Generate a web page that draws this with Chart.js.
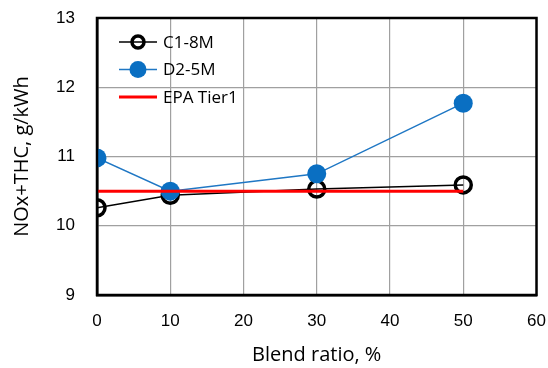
<!DOCTYPE html>
<html>
<head>
<meta charset="utf-8">
<script src="https://cdn.jsdelivr.net/npm/chart.js@4"></script>
<style>
  html, body { margin: 0; padding: 0; background: #fff; }
  #wrap { width: 548px; height: 368px; }
</style>
</head>
<body>
<div id="wrap"><canvas id="chart" width="548" height="368"></canvas></div>
<script>
// blend ratio, %
const blendRatio = [0, 10, 30, 50];
// NOx+THC, g/kWh
const c18m = [10.26, 10.44, 10.53, 10.59];
const d25m = [10.98, 10.50, 10.75, 11.77];
const epaTier1 = [10.5, 10.5, 10.5, 10.5];
const xTicks = [0, 10, 20, 30, 40, 50, 60];
const yTicks = [9, 10, 11, 12, 13];

const pts = (ys) => blendRatio.map((x, i) => ({ x: x, y: ys[i] }));

const tickFont = { family: 'Liberation Sans, Arial, sans-serif', size: 17 };
const titleFont = { family: 'Open Sans, Noto Sans, sans-serif', size: 20 };

// frame round the plot area + legend inside it
const framePlugin = {
  id: 'frame',
  afterDatasetsDraw(chart) {
    const { ctx, chartArea: a } = chart;
    ctx.save();
    ctx.strokeStyle = '#000';
    ctx.lineWidth = 2.5;
    ctx.strokeRect(a.left, a.top, a.right - a.left, a.bottom - a.top);

    // legend
    let y = a.top + 24;
    chart.data.datasets.forEach(ds => {
      const x0 = a.left + 22, x1 = a.left + 60;
      ctx.strokeStyle = ds.borderColor;
      ctx.lineWidth = ds.legendLine;
      ctx.beginPath();
      ctx.moveTo(x0, y);
      ctx.lineTo(x1, y);
      ctx.stroke();
      if (ds.pointRadius > 0) {
        ctx.beginPath();
        ctx.arc((x0 + x1) / 2, y, ds.legendRadius, 0, Math.PI * 2);
        ctx.fillStyle = ds.pointBackgroundColor;
        ctx.fill();
        if (ds.pointBorderWidth > 0) {
          ctx.lineWidth = ds.pointBorderWidth;
          ctx.strokeStyle = ds.pointBorderColor;
          ctx.stroke();
        }
      }
      ctx.fillStyle = '#000';
      ctx.font = '17px "Open Sans", "Noto Sans", sans-serif';
      ctx.textBaseline = 'middle';
      ctx.textAlign = 'left';
      ctx.fillText(ds.label, x1 + 6, y + 1);
      y += 27.5;
    });
    ctx.restore();
  }
};

new Chart(document.getElementById('chart'), {
  type: 'line',
  data: {
    datasets: [
      {
        label: 'C1-8M',
        data: pts(c18m),
        borderColor: '#000',
        borderWidth: 1.5,
        pointRadius: 8,
        pointBorderWidth: 3.5,
        pointBackgroundColor: 'rgba(255,255,255,0)',
        pointBorderColor: '#000',
        legendLine: 1.5,
        legendRadius: 6,
        order: 2
      },
      {
        label: 'D2-5M',
        data: pts(d25m),
        borderColor: '#1f77c4',
        borderWidth: 1.5,
        pointRadius: 9.5,
        pointBorderWidth: 0,
        pointBackgroundColor: '#0a6fc2',
        pointBorderColor: '#0a6fc2',
        legendLine: 1.5,
        legendRadius: 8.5,
        order: 1
      },
      {
        label: 'EPA Tier1',
        data: pts(epaTier1),
        borderColor: '#ff0000',
        borderWidth: 3,
        pointRadius: 0,
        legendLine: 3,
        order: 0
      }
    ]
  },
  options: {
    responsive: false,
    animation: false,
    layout: { padding: { left: 0, right: 10, top: 18, bottom: 0 } },
    plugins: {
      legend: { display: false },
      tooltip: { enabled: false }
    },
    elements: { line: { tension: 0 } },
    scales: {
      x: {
        type: 'linear',
        min: 0,
        max: 60,
        afterBuildTicks(scale) { scale.ticks = xTicks.map(v => ({ value: v })); },
        afterFit(scale) {
          scale.height = 73;
          scale.paddingLeft = 0;
          scale.paddingRight = 0;
        },
        grid: { color: '#a0a0a0', lineWidth: 1.2, drawTicks: false },
        border: { color: '#000', width: 2.5 },
        ticks: { color: '#000', font: tickFont, padding: 16 },
        title: { display: true, text: 'Blend ratio, %', color: '#000', font: titleFont, padding: { top: 4, bottom: 1 } }
      },
      y: {
        min: 9,
        max: 13,
        afterBuildTicks(scale) { scale.ticks = yTicks.map(v => ({ value: v })); },
        afterFit(scale) {
          scale.width = 97;
          scale.paddingTop = 0;
          scale.paddingBottom = 0;
        },
        grid: { color: '#a0a0a0', lineWidth: 1.2, drawTicks: false },
        border: { color: '#000', width: 2.5 },
        ticks: { color: '#000', font: tickFont, padding: 22 },
        title: { display: true, text: 'NOx+THC, g/kWh', color: '#000', font: titleFont, padding: { top: 10, bottom: 4 } }
      }
    }
  },
  plugins: [framePlugin]
});
</script>
</body>
</html>
